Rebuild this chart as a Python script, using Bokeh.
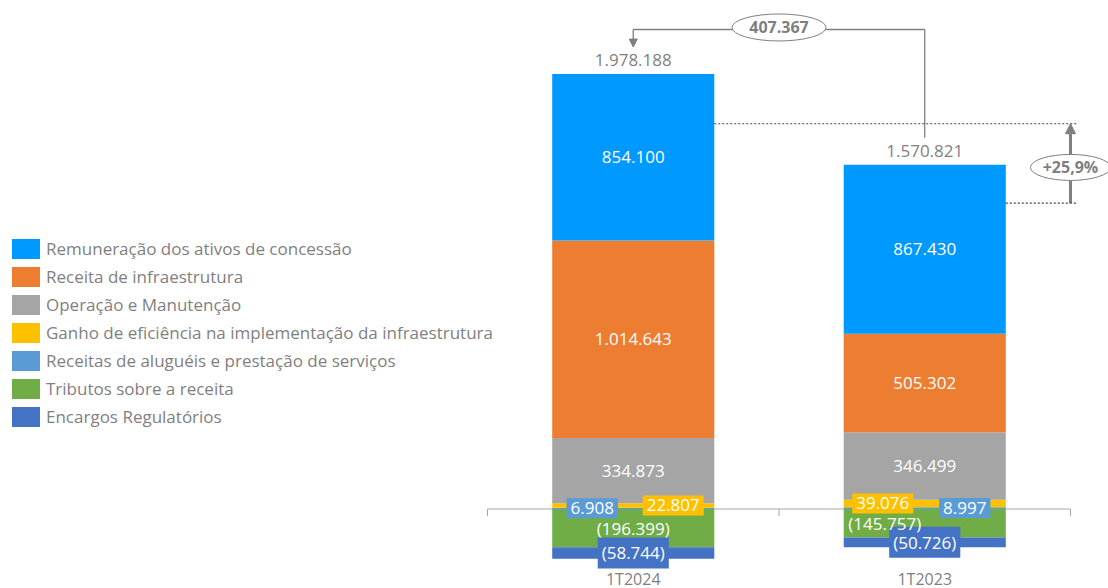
from bokeh.plotting import figure
from bokeh.models import (ColumnDataSource, Range1d, Legend, LegendItem, Arrow, NormalHead)
from bokeh.core.properties import value
from bokeh.embed import file_html
from bokeh.resources import INLINE

# ---------------- data ----------------
categories = ["1T2024", "1T2023"]
remuneracao = [854100, 867430]
receita_infra = [1014643, 505302]
operacao = [334873, 346499]
ganho = [22807, 39076]
alugueis = [6908, 8997]
tributos = [-196399, -145757]
encargos = [-58744, -50726]

series_labels = {
    "remuneracao": "Remuneração dos ativos de concessão",
    "receita_infra": "Receita de infraestrutura",
    "operacao": "Operação e Manutenção",
    "ganho": "Ganho de eficiência na implementação da infraestrutura",
    "alugueis": "Receitas de aluguéis e prestação de serviços",
    "tributos": "Tributos sobre a receita",
    "encargos": "Encargos Regulatórios",
}
series_colors = {
    "remuneracao": "#0099FF",
    "receita_infra": "#ED7D31",
    "operacao": "#A5A5A5",
    "ganho": "#FFC000",
    "alugueis": "#5B9BD5",
    "tributos": "#70AD47",
    "encargos": "#4472C4",
}
series_values = {
    "remuneracao": remuneracao, "receita_infra": receita_infra, "operacao": operacao,
    "ganho": ganho, "alugueis": alugueis, "tributos": tributos, "encargos": encargos,
}
legend_order = ["remuneracao", "receita_infra", "operacao", "ganho", "alugueis", "tributos", "encargos"]
pos_keys = ["alugueis", "ganho", "operacao", "receita_infra", "remuneracao"]
neg_keys = ["tributos", "encargos"]


def fmt(v):
    s = f"{abs(v):,}".replace(",", ".")
    return f"({s})" if v < 0 else s


pos_total = [sum(series_values[k][i] for k in pos_keys) for i in range(2)]
net_total = [pos_total[i] + sum(series_values[k][i] for k in neg_keys) for i in range(2)]
diff = net_total[0] - net_total[1]
growth = (net_total[0] / net_total[1] - 1) * 100
growth_txt = ("+" + f"{growth:.1f}" + "%").replace(".", ",")

# ---------------- layout / style ----------------
FONT = "Open Sans"
GRAY = "#7F7F7F"
W, H = 1108, 588
ZERO_PX = 508.5                  # zero line, pixels from top of the figure
U = 5135.0                       # data units per pixel
y_max = ZERO_PX * U
y_min = -(H - ZERO_PX) * U
BAND = 291.5
X0_PX = 487
x_start = -X0_PX / BAND
x_end = (W - X0_PX) / BAND
BAR_W = 0.556
xs = [0.5, 1.5]

p = figure(width=W, height=H, x_range=Range1d(x_start, x_end), y_range=Range1d(y_min, y_max),
           output_backend="svg", toolbar_location=None, x_axis_location=None, y_axis_location=None,
           min_border=0)
p.outline_line_color = None
p.xgrid.visible = False
p.ygrid.visible = False
p.background_fill_color = "white"

# zero line with category separators
p.segment(x0=[0], x1=[2], y0=[0], y1=[0], line_color="#A6A6A6", line_width=1)
p.segment(x0=[0, 1, 2], x1=[0, 1, 2], y0=[0, 0, 0], y1=[-7 * U] * 3, line_color="#A6A6A6", line_width=1)

# category labels
p.text(x=xs, y=[-(578 - ZERO_PX) * U] * 2, text=categories, text_color=GRAY, text_align="center",
       text_baseline="middle", text_font=value(FONT), text_font_size="16px")

data = dict(x=xs)
data.update(series_values)
src = ColumnDataSource(data)

pos_r = p.vbar_stack(pos_keys, x="x", width=BAR_W, source=src,
                     color=[series_colors[k] for k in pos_keys], line_color=None)
neg_r = p.vbar_stack(neg_keys, x="x", width=BAR_W, source=src,
                     color=[series_colors[k] for k in neg_keys], line_color=None)
rmap = dict(zip(pos_keys, pos_r))
rmap.update(dict(zip(neg_keys, neg_r)))

legend = Legend(items=[LegendItem(label=series_labels[k], renderers=[rmap[k]]) for k in legend_order],
                location=(8, 159), orientation="vertical",
                glyph_width=35, glyph_height=25, label_height=25, spacing=3, label_standoff=3,
                padding=0, margin=0, border_line_color=None, background_fill_alpha=0,
                label_text_font=FONT, label_text_font_size="17px", label_text_color=GRAY)
p.add_layout(legend)

# segment midpoints
mids = {}
for keys in (pos_keys, neg_keys):
    cum = [0, 0]
    for k in keys:
        mids[k] = [cum[i] + series_values[k][i] / 2 for i in range(2)]
        cum = [cum[i] + series_values[k][i] for i in range(2)]

# big segment labels
for k in ["remuneracao", "receita_infra", "operacao"]:
    p.text(x=xs, y=mids[k], text=[fmt(v) for v in series_values[k]], text_color="white",
           text_align="center", text_baseline="middle", text_font=value(FONT), text_font_size="17px")

# small labels, shifted sideways
x_shift = {"ganho": [40, -42], "alugueis": [-41, 40], "tributos": [0, -40], "encargos": [0, 0]}
boxed = {"ganho": True, "alugueis": True, "tributos": False, "encargos": True}
for k in ["encargos", "tributos", "ganho", "alugueis"]:
    s = ColumnDataSource(dict(x=xs, y=mids[k], t=[fmt(v) for v in series_values[k]], dx=x_shift[k]))
    kw = dict(text_font_size="17px")
    if boxed[k]:
        kw = dict(background_fill_color=series_colors[k], padding=(4, 4), text_font_size="17px")
    p.text(x="x", y="y", text="t", x_offset="dx", source=s, text_color="white",
           text_align="center", text_baseline="middle", text_font=value(FONT), **kw)

# totals above bars
p.text(x=xs, y=pos_total, text=[fmt(v) for v in net_total], y_offset=-14, text_color=GRAY,
       text_align="center", text_baseline="middle", text_font=value(FONT), text_font_size="17px")

# bracket between totals
bracket_top = pos_total[0] + 44.6 * U
p.segment(x0=[xs[0]], x1=[xs[1]], y0=[bracket_top], y1=[bracket_top], line_color=GRAY, line_width=1.3)
p.segment(x0=[xs[1]], x1=[xs[1]], y0=[pos_total[1] + 27 * U], y1=[bracket_top], line_color=GRAY, line_width=1.3)
p.add_layout(Arrow(x_start=xs[0], y_start=bracket_top, x_end=xs[0], y_end=pos_total[0] + 27 * U,
                   line_color=GRAY, line_width=1.3, level="underlay",
                   end=NormalHead(size=8, fill_color=GRAY, line_color=GRAY)))
p.ellipse(x=[1.0], y=[bracket_top + 2 * U], width=[94], height=[27], width_units="screen",
          height_units="screen", fill_color="white", line_color=GRAY, line_width=1)
p.text(x=[1.0], y=[bracket_top + 2 * U], text=[fmt(diff)], text_color=GRAY, text_font_style="bold",
       text_align="center", text_baseline="middle", text_font=value(FONT), text_font_size="16px")

# dotted reference lines and growth arrow
p.segment(x0=[xs[0] + BAR_W / 2, xs[1] + BAR_W / 2], x1=[2.025, 2.025], y0=net_total, y1=net_total,
          line_color="#404040", line_width=1.2, line_dash="2 2")
p.add_layout(Arrow(x_start=2.0, y_start=net_total[1], x_end=2.0, y_end=net_total[0],
                   line_color=GRAY, line_width=3, level="underlay",
                   end=NormalHead(size=10, fill_color=GRAY, line_color=GRAY)))
mid_net = (net_total[0] + net_total[1]) / 2 - 4 * U
p.ellipse(x=[2.0], y=[mid_net], width=[80], height=[26], width_units="screen", height_units="screen",
          fill_color="white", line_color=GRAY, line_width=1)
p.text(x=[2.0], y=[mid_net], text=[growth_txt], text_color=GRAY, text_font_style="bold",
       text_align="center", text_baseline="middle", text_font=value(FONT), text_font_size="16px")

open("out.html", "w").write(file_html(p, INLINE))
